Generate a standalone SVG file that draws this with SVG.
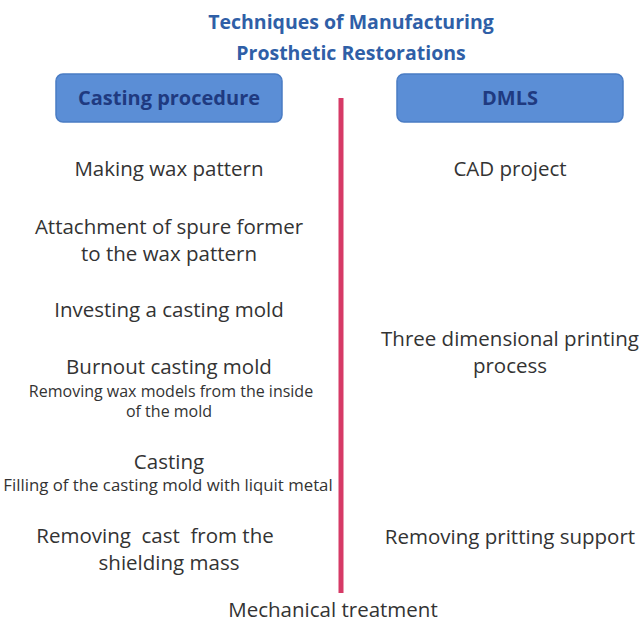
<svg xmlns="http://www.w3.org/2000/svg" width="642" height="623" viewBox="0 0 642 623">
<style>
.title{font-family:"Open Sans","Liberation Sans",sans-serif;font-weight:bold;font-size:19.5px;fill:#2f5fa7;text-anchor:middle}
.hdr{font-family:"Open Sans","Liberation Sans",sans-serif;font-weight:bold;font-size:20px;fill:#1f3a80;text-anchor:middle}
.box{fill:#5b8ed6;stroke:#4a7cc4;stroke-width:1.5}
.t{font-family:"Open Sans","Liberation Sans",sans-serif;font-size:20.5px;fill:#333;text-anchor:middle}
.s{font-family:"Open Sans","Liberation Sans",sans-serif;font-size:16px;fill:#333;text-anchor:middle}
</style>
<rect width="642" height="623" fill="#fff"/>
<g id="title">
<text class="title" x="351" y="29">Techniques of Manufacturing</text>
<text class="title" x="351" y="60">Prosthetic Restorations</text>
</g>
<g id="casting-header">
<rect class="box" x="56" y="74" width="226" height="48" rx="7"/>
<text class="hdr" x="169" y="105">Casting procedure</text>
</g>
<g id="dmls-header">
<rect class="box" x="397" y="74" width="226" height="48" rx="7"/>
<text class="hdr" x="510" y="105">DMLS</text>
</g>
<g id="connectors">
<line x1="341" y1="98" x2="341" y2="593" stroke="#d63a66" stroke-width="5"/>
</g>
<g id="step-wax"><text class="t" x="169" y="176">Making wax pattern</text></g>
<g id="step-spure"><text class="t" x="169" y="234">Attachment of spure former</text><text class="t" x="169" y="261">to the wax pattern</text></g>
<g id="step-invest"><text class="t" x="169" y="317">Investing a casting mold</text></g>
<g id="step-burnout"><text class="t" x="169" y="374">Burnout casting mold</text><text class="s" x="171" y="397">Removing wax models from the inside</text><text class="s" x="169" y="417">of the mold</text></g>
<g id="step-casting"><text class="t" x="169" y="469">Casting</text><text class="s" x="168" y="491" style="font-size:16.8px">Filling of the casting mold with liquit metal</text></g>
<g id="step-remove"><text class="t" x="155" y="543" xml:space="preserve">Removing  cast  from the</text><text class="t" x="169" y="570">shielding mass</text></g>
<g id="step-cad"><text class="t" x="510" y="176">CAD project</text></g>
<g id="step-print"><text class="t" x="510" y="346">Three dimensional printing</text><text class="t" x="510" y="373">process</text></g>
<g id="step-support"><text class="t" x="510" y="544">Removing pritting support</text></g>
<g id="step-mech"><text class="t" x="333" y="617">Mechanical treatment</text></g>
</svg>
